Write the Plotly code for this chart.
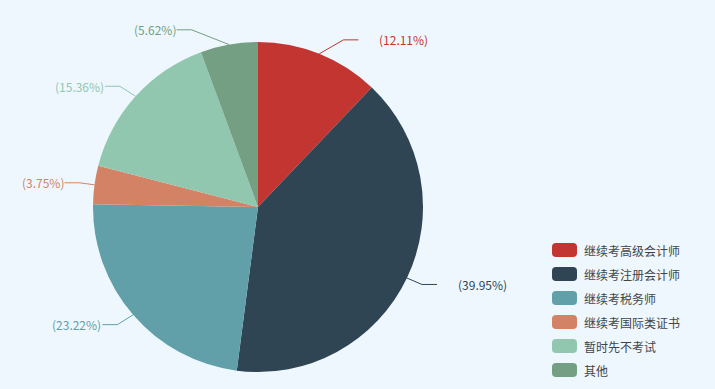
import math
import plotly.graph_objects as go

names = ["继续考高级会计师", "继续考注册会计师", "继续考税务师", "继续考国际类证书", "暂时先不考试", "其他"]
values = [12.11, 39.95, 23.22, 3.75, 15.36, 5.62]
colors = ["#c23531", "#2f4554", "#61a0a8", "#d48265", "#91c7ae", "#749f83"]

W, H = 715, 389
CX, CY, R = 258, 207, 165
L1, L2 = 15, 15
BG = "#eef7fe"
FONT = "Noto Sans CJK SC, Noto Sans, sans-serif"


def px(x):
    return x / W


def py(y):
    return 1 - y / H


fig = go.Figure(go.Pie(
    labels=names, values=values, sort=False, direction="clockwise", rotation=0,
    marker=dict(colors=colors, line=dict(width=0)),
    textinfo="none", hoverinfo="label+percent", showlegend=False,
    domain=dict(x=[px(CX - R), px(CX + R)], y=[py(CY + R), py(CY - R)]),
))

total = sum(values)
shapes = []
annotations = []
cum = 0.0
for name, v, c in zip(names, values, colors):
    mid = (cum + v / 2) / total
    cum += v
    th = 2 * math.pi * mid
    ex, ey = CX + R * math.sin(th), CY - R * math.cos(th)
    ly = CY - (R + L1) * math.cos(th)
    d = 1 if math.sin(th) > 0 else -1
    dy = abs(ly - CY)
    RR = R + L1 + L2
    dx = math.sqrt(RR * RR - dy * dy) if dy < RR else abs(ex - CX)
    endx = CX + d * dx
    kx = endx - d * L2
    path = f"M {px(ex)} {py(ey)} L {px(kx)} {py(ly)} L {px(endx)} {py(ly)}"
    shapes.append(dict(type="path", xref="paper", yref="paper", path=path,
                       line=dict(color=c, width=1)))
    pct = v / total * 100
    annotations.append(dict(
        x=px(endx + (19 if d > 0 else 1)), y=py(ly), xref="paper", yref="paper",
        text=f"({pct:.2f}%)", showarrow=False,
        xanchor="left" if d > 0 else "right", yanchor="middle",
        font=dict(size=12, color=c, family=FONT),
    ))

# custom legend
LX0, LX1, LY0, STEP, RH, RC = 552, 577, 250, 24, 14, 4
for i, (name, c) in enumerate(zip(names, colors)):
    yc = LY0 + STEP * i
    x0, x1, y0, y1 = LX0, LX1, yc - RH / 2, yc + RH / 2
    p = (f"M {px(x0 + RC)} {py(y0)} L {px(x1 - RC)} {py(y0)} "
         f"Q {px(x1)} {py(y0)} {px(x1)} {py(y0 + RC)} L {px(x1)} {py(y1 - RC)} "
         f"Q {px(x1)} {py(y1)} {px(x1 - RC)} {py(y1)} L {px(x0 + RC)} {py(y1)} "
         f"Q {px(x0)} {py(y1)} {px(x0)} {py(y1 - RC)} L {px(x0)} {py(y0 + RC)} "
         f"Q {px(x0)} {py(y0)} {px(x0 + RC)} {py(y0)} Z")
    shapes.append(dict(type="path", xref="paper", yref="paper", path=p,
                       fillcolor=c, line=dict(width=0)))
    annotations.append(dict(
        x=px(582), y=py(yc), xref="paper", yref="paper", text=name,
        showarrow=False, xanchor="left", yanchor="middle",
        font=dict(size=12, color="#444444", family=FONT),
    ))

fig.update_layout(
    width=W, height=H, autosize=False,
    margin=dict(l=0, r=0, t=0, b=0),
    paper_bgcolor=BG, plot_bgcolor=BG,
    shapes=shapes, annotations=annotations,
)
fig.write_html("out.html", config={"displayModeBar": False})

with open("out.html", encoding="utf-8") as f:
    html = f.read()
html = html.replace("<head>", "<head><style>html,body{margin:0;padding:0;overflow:hidden;background:%s}</style>" % BG, 1)
with open("out.html", "w", encoding="utf-8") as f:
    f.write(html)
